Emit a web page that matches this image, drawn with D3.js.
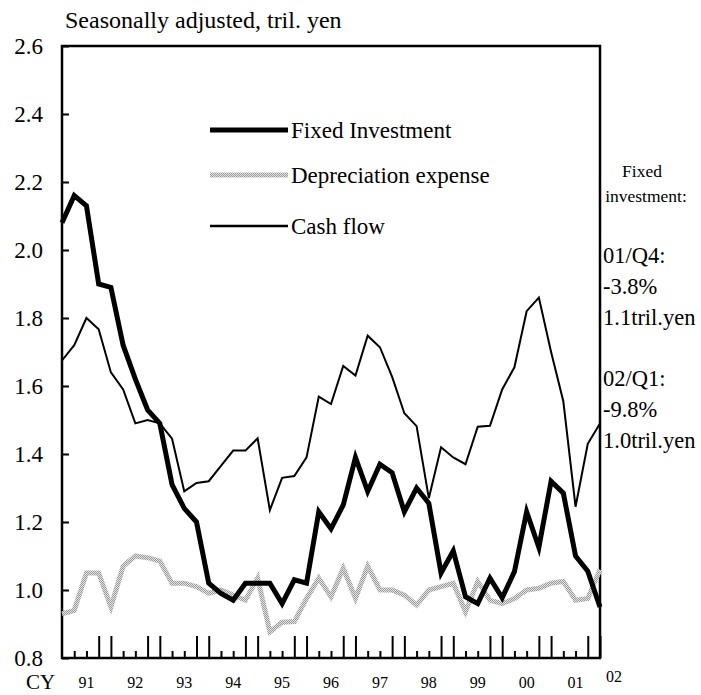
<!DOCTYPE html>
<html lang="en">
<head>
    <meta charset="UTF-8">
    <title>Fixed Investment, Depreciation and Cash Flow</title>
    <script src="https://d3js.org/d3.v7.min.js"></script>
    <style>
        body {
            margin: 0;
            padding: 0;
            background-color: #fff;
        }
        svg text {
            font-family: "Liberation Serif", "Tinos", "Times New Roman", "DejaVu Serif", serif !important;
            fill: #000;
        }
    </style>
</head>
<body>
    <div id="chart"></div>
    <script>
        // quarterly, 1991/Q1 .. 2002/Q1
        const fixedInvestment = [
            2.08, 2.16, 2.13, 1.90, 1.89, 1.72, 1.62, 1.53, 1.49, 1.31, 1.24, 1.20,
            1.02, 0.99, 0.97, 1.02, 1.02, 1.02, 0.96, 1.03, 1.02, 1.23, 1.18, 1.25,
            1.39, 1.29, 1.37, 1.345, 1.23, 1.30, 1.255, 1.05, 1.115, 0.98, 0.96, 1.035,
            0.977, 1.054, 1.23, 1.125, 1.32, 1.285, 1.10, 1.055, 0.95
        ];
        const depreciation = [
            0.93, 0.94, 1.05, 1.05, 0.95, 1.07, 1.10, 1.095, 1.085, 1.02, 1.02, 1.01,
            0.99, 1.00, 0.985, 0.97, 1.035, 0.877, 0.905, 0.907, 0.975, 1.035, 0.98, 1.064,
            0.975, 1.07, 1.00, 1.00, 0.985, 0.956, 1.00, 1.01, 1.02, 0.936, 1.025, 0.97,
            0.96, 0.975, 1.00, 1.005, 1.02, 1.025, 0.97, 0.975, 1.06
        ];
        const cashFlow = [
            1.675, 1.72, 1.80, 1.767, 1.64, 1.59, 1.49, 1.50, 1.49, 1.445, 1.29, 1.315,
            1.32, 1.365, 1.41, 1.41, 1.446, 1.235, 1.33, 1.335, 1.39, 1.569, 1.547, 1.659,
            1.631, 1.748, 1.714, 1.627, 1.52, 1.482, 1.27, 1.42, 1.39, 1.37, 1.48, 1.483,
            1.59, 1.655, 1.82, 1.86, 1.70, 1.555, 1.245, 1.43, 1.49
        ];
        const yearLabels = ["91", "92", "93", "94", "95", "96", "97", "98", "99", "00", "01"];
        const lastYearLabel = "02";
        const yTicks = [0.8, 1.0, 1.2, 1.4, 1.6, 1.8, 2.0, 2.2, 2.4, 2.6];
        const legendNames = ["Fixed Investment", "Depreciation expense", "Cash flow"];
        const noteLines = ["01/Q4:", "-3.8%", "1.1tril.yen", "", "02/Q1:", "-9.8%", "1.0tril.yen"];

        const width = 701, height = 695;
        const margin = { top: 46, right: 101, bottom: 37, left: 62 };
        const serif = "Liberation Serif, Tinos, Times New Roman, DejaVu Serif, serif";

        const svg = d3.select("#chart").append("svg")
            .attr("width", width)
            .attr("height", height)
            .attr("font-family", serif);

        const x = d3.scaleLinear()
            .domain([0, fixedInvestment.length - 1])
            .range([margin.left, width - margin.right]);

        const y = d3.scaleLinear()
            .domain([0.8, 2.6])
            .range([height - margin.bottom, margin.top]);

        // dotted grey texture for depreciation line
        const pat = svg.append("defs").append("pattern")
            .attr("id", "dots")
            .attr("patternUnits", "userSpaceOnUse")
            .attr("width", 2).attr("height", 2);
        pat.append("rect").attr("width", 2).attr("height", 2).attr("fill", "#e4e4e4");
        pat.append("rect").attr("width", 1).attr("height", 1).attr("fill", "#9a9a9a");
        pat.append("rect").attr("x", 1).attr("y", 1).attr("width", 1).attr("height", 1).attr("fill", "#9a9a9a");

        // title
        svg.append("text")
            .attr("x", 65).attr("y", 28)
            .attr("font-size", "24px")
            .text("Seasonally adjusted, tril. yen");

        // y axis
        const yAxis = svg.append("g")
            .attr("transform", `translate(${margin.left},0)`)
            .call(d3.axisLeft(y).tickValues(yTicks).tickSize(-7).tickPadding(19)
                .tickFormat(d3.format(".1f")));
        yAxis.attr("font-family", serif).attr("font-size", "23px");
        yAxis.select(".domain").remove();
        yAxis.selectAll("line").attr("stroke-width", 2);

        // x axis, quarterly ticks
        const xAxis = svg.append("g")
            .attr("transform", `translate(0,${height - margin.bottom})`)
            .call(d3.axisBottom(x).tickValues(d3.range(1, fixedInvestment.length)).tickSize(-7).tickFormat(""));
        xAxis.select(".domain").remove();
        xAxis.selectAll("line")
            .attr("stroke-width", 2)
            .attr("y2", d => (d % 4 === 0 || d % 4 === 3) ? -22 : -7);

        // frame
        svg.append("rect")
            .attr("x", margin.left).attr("y", margin.top)
            .attr("width", width - margin.left - margin.right)
            .attr("height", height - margin.top - margin.bottom)
            .attr("fill", "none")
            .attr("stroke", "#000")
            .attr("stroke-width", 2.5);

        // year labels
        svg.append("g").selectAll("text")
            .data(yearLabels)
            .join("text")
            .attr("x", (d, i) => x(i * 4 + 2))
            .attr("y", 688)
            .attr("text-anchor", "middle")
            .attr("font-size", "16px")
            .text(d => d);
        svg.append("text")
            .attr("x", x(fixedInvestment.length - 1) + 14)
            .attr("y", 682)
            .attr("text-anchor", "middle")
            .attr("font-size", "16px")
            .text(lastYearLabel);
        svg.append("text")
            .attr("x", 26).attr("y", 689)
            .attr("font-size", "21px")
            .text("CY");

        const line = d3.line()
            .x((d, i) => x(i))
            .y(d => y(d));

        svg.append("path")
            .datum(depreciation)
            .attr("fill", "none")
            .attr("stroke", "url(#dots)")
            .attr("stroke-width", 5)
            .attr("d", line);

        svg.append("path")
            .datum(cashFlow)
            .attr("fill", "none")
            .attr("stroke", "#000")
            .attr("stroke-width", 2)
            .attr("d", line);

        svg.append("path")
            .datum(fixedInvestment)
            .attr("fill", "none")
            .attr("stroke", "#000")
            .attr("stroke-width", 5)
            .attr("d", line);

        // legend
        const legendY = [130, 175, 226];
        const legendStyle = [
            { stroke: "#000", w: 5 },
            { stroke: "url(#dots)", w: 5 },
            { stroke: "#000", w: 2.5 }
        ];
        legendNames.forEach((name, i) => {
            svg.append("line")
                .attr("x1", 210).attr("x2", 288)
                .attr("y1", legendY[i]).attr("y2", legendY[i])
                .attr("stroke", legendStyle[i].stroke)
                .attr("stroke-width", legendStyle[i].w);
            svg.append("text")
                .attr("x", 291).attr("y", legendY[i] + 8)
                .attr("font-size", "23px")
                .text(name);
        });

        // side note
        svg.append("text")
            .attr("x", 642).attr("y", 177)
            .attr("text-anchor", "middle")
            .attr("font-size", "17.5px")
            .text("Fixed");
        svg.append("text")
            .attr("x", 646).attr("y", 202)
            .attr("text-anchor", "middle")
            .attr("font-size", "17.5px")
            .text("investment:");
        svg.append("g").selectAll("text")
            .data(noteLines)
            .join("text")
            .attr("x", 603)
            .attr("y", (d, i) => 263 + i * 30.8)
            .attr("font-size", "22.5px")
            .text(d => d);
    </script>
</body>
</html>
